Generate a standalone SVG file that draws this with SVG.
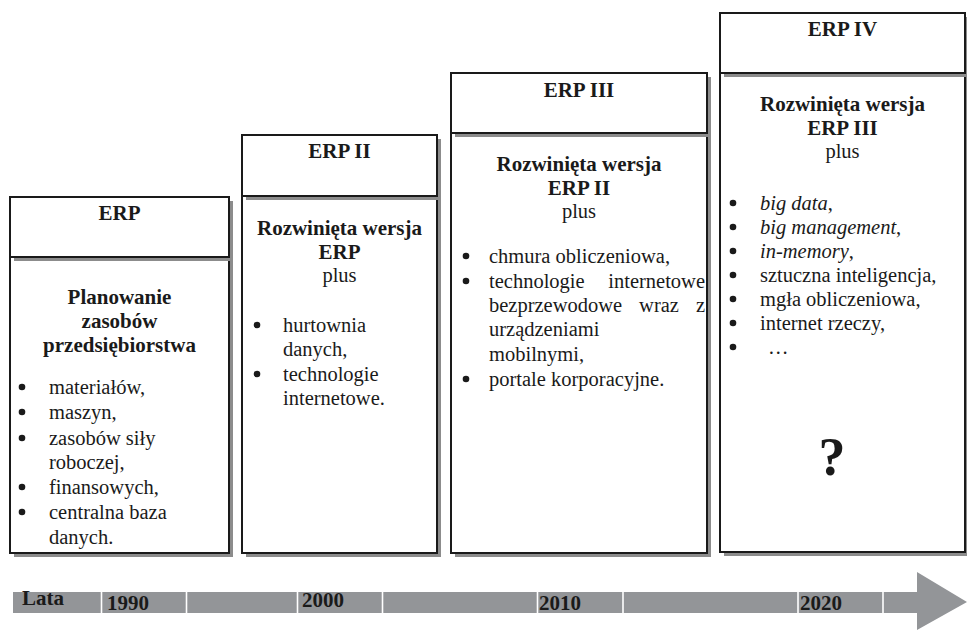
<svg xmlns="http://www.w3.org/2000/svg" width="967" height="630" viewBox="0 0 967 630">
<style>
.sh{fill:#8c8c8c}
.bx{fill:#fff;stroke:#1a1a1a;stroke-width:2}
text{font-family:"Liberation Serif","Times New Roman",serif;fill:#1a1a1a}
.hd{font-size:21px;font-weight:bold;text-anchor:middle}
.tb{font-size:21px;font-weight:bold;text-anchor:middle}
.pl{font-size:20.5px;text-anchor:middle}
.li{font-size:20.5px}
.it{font-style:italic}
.bu{fill:#1a1a1a}
.yr{font-size:21px;font-weight:bold}
.gap{stroke:#fff;stroke-width:1.6}
</style>
<rect width="967" height="630" fill="#fff"/>

<g id="erp1">
  <rect class="sh" x="14" y="261" width="219" height="296"/>
  <rect class="bx" x="10" y="257" width="219" height="296"/>
  <rect class="sh" x="14" y="201" width="219" height="60"/>
  <rect class="bx" x="10" y="197" width="219" height="60"/>
  <text class="hd" x="119.5" y="220">ERP</text>
  <text class="tb" x="119.5" y="304">Planowanie</text>
  <text class="tb" x="119.5" y="328">zasobów</text>
  <text class="tb" x="119.5" y="352">przedsiębiorstwa</text>
  <circle class="bu" cx="22" cy="387" r="3.3"/>
  <text class="li" x="49" y="394">materiałów,</text>
  <circle class="bu" cx="22" cy="412" r="3.3"/>
  <text class="li" x="49" y="419">maszyn,</text>
  <circle class="bu" cx="22" cy="438" r="3.3"/>
  <text class="li" x="49" y="445">zasobów siły</text>
  <text class="li" x="49" y="469">roboczej,</text>
  <circle class="bu" cx="22" cy="487" r="3.3"/>
  <text class="li" x="49" y="494">finansowych,</text>
  <circle class="bu" cx="22" cy="512" r="3.3"/>
  <text class="li" x="49" y="519">centralna baza</text>
  <text class="li" x="49" y="544">danych.</text>
</g>

<g id="erp2">
  <rect class="sh" x="246" y="200" width="195" height="357"/>
  <rect class="bx" x="242" y="196" width="195" height="357"/>
  <rect class="sh" x="246" y="139" width="195" height="61"/>
  <rect class="bx" x="242" y="135" width="195" height="61"/>
  <text class="hd" x="339.5" y="158">ERP II</text>
  <text class="tb" x="339.5" y="235">Rozwinięta wersja</text>
  <text class="tb" x="339.5" y="259">ERP</text>
  <text class="pl" x="339.5" y="282">plus</text>
  <circle class="bu" cx="257" cy="325" r="3.3"/>
  <text class="li" x="283" y="332">hurtownia</text>
  <text class="li" x="283" y="356">danych,</text>
  <circle class="bu" cx="257" cy="374" r="3.3"/>
  <text class="li" x="283" y="381">technologie</text>
  <text class="li" x="283" y="405">internetowe.</text>
</g>

<g id="erp3">
  <rect class="sh" x="455" y="137" width="256" height="420"/>
  <rect class="bx" x="451" y="133" width="256" height="420"/>
  <rect class="sh" x="455" y="77" width="256" height="60"/>
  <rect class="bx" x="451" y="73" width="256" height="60"/>
  <text class="hd" x="579" y="97">ERP III</text>
  <text class="tb" x="579" y="171">Rozwinięta wersja</text>
  <text class="tb" x="579" y="195">ERP II</text>
  <text class="pl" x="579" y="218">plus</text>
  <circle class="bu" cx="466" cy="256" r="3.3"/>
  <text class="li" x="489" y="263">chmura obliczeniowa,</text>
  <circle class="bu" cx="466" cy="281" r="3.3"/>
  <text class="li" x="489" y="288">technologie</text>
  <text class="li" x="705" y="288" text-anchor="end">internetowe</text>
  <text class="li" x="489" y="312">bezprzewodowe</text>
  <text class="li" x="659" y="312" text-anchor="middle">wraz</text>
  <text class="li" x="705" y="312" text-anchor="end">z</text>
  <text class="li" x="489" y="336">urządzeniami</text>
  <text class="li" x="489" y="361">mobilnymi,</text>
  <circle class="bu" cx="466" cy="379" r="3.3"/>
  <text class="li" x="489" y="386">portale korporacyjne.</text>
</g>

<g id="erp4">
  <rect class="sh" x="724" y="77" width="245" height="479"/>
  <rect class="bx" x="720" y="73" width="245" height="479"/>
  <rect class="sh" x="724" y="17" width="245" height="60"/>
  <rect class="bx" x="720" y="13" width="245" height="60"/>
  <text class="hd" x="842.5" y="36">ERP IV</text>
  <text class="tb" x="842.5" y="111">Rozwinięta wersja</text>
  <text class="tb" x="842.5" y="135">ERP III</text>
  <text class="pl" x="842.5" y="158">plus</text>
  <circle class="bu" cx="733" cy="203" r="3.3"/>
  <text class="li" x="760" y="210"><tspan class="it">big data</tspan>,</text>
  <circle class="bu" cx="733" cy="227" r="3.3"/>
  <text class="li" x="760" y="234"><tspan class="it">big management</tspan>,</text>
  <circle class="bu" cx="733" cy="251" r="3.3"/>
  <text class="li" x="760" y="258"><tspan class="it">in-memory</tspan>,</text>
  <circle class="bu" cx="733" cy="275" r="3.3"/>
  <text class="li" x="760" y="282">sztuczna inteligencja,</text>
  <circle class="bu" cx="733" cy="299" r="3.3"/>
  <text class="li" x="760" y="306">mgła obliczeniowa,</text>
  <circle class="bu" cx="733" cy="323" r="3.3"/>
  <text class="li" x="760" y="330">internet rzeczy,</text>
  <circle class="bu" cx="733" cy="347" r="3.3"/>
  <text class="li" x="768" y="354">…</text>
  <text x="832" y="475" font-size="54" font-weight="bold" text-anchor="middle">?</text>
</g>

<g id="timeline">
  <polygon fill="#939598" points="13,592 917,592 917,572 967,602 917,630 917,613 13,613"/>
  <line class="gap" x1="101.5" y1="591" x2="101.5" y2="614"/>
  <line class="gap" x1="186.5" y1="591" x2="186.5" y2="614"/>
  <line class="gap" x1="297.5" y1="591" x2="297.5" y2="614"/>
  <line class="gap" x1="382.5" y1="591" x2="382.5" y2="614"/>
  <line class="gap" x1="537.5" y1="591" x2="537.5" y2="614"/>
  <line class="gap" x1="623" y1="591" x2="623" y2="614"/>
  <line class="gap" x1="798" y1="591" x2="798" y2="614"/>
  <line class="gap" x1="883" y1="591" x2="883" y2="614"/>
  <text class="yr" x="22" y="605">Lata</text>
  <text class="yr" x="107" y="610">1990</text>
  <text class="yr" x="302" y="607">2000</text>
  <text class="yr" x="539" y="610">2010</text>
  <text class="yr" x="800" y="610">2020</text>
</g>
</svg>
